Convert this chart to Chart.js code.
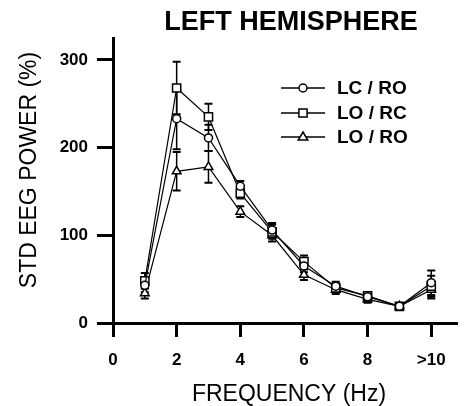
<!DOCTYPE html>
<html>
<head>
<meta charset="utf-8">
<script src="https://cdn.jsdelivr.net/npm/chart.js@4/dist/chart.umd.min.js"></script>
<style>
  html, body { margin: 0; padding: 0; background: #fff; }
  #wrap { width: 464px; height: 406px; }
</style>
</head>
<body>
<div id="wrap"><canvas id="eegChart" width="464" height="406"></canvas></div>
<script>
// frequency bins (10 = ">10 Hz")
const freqs = [1, 2, 3, 4, 5, 6, 7, 8, 9, 10];

// std EEG power (%) per condition, with SEM
const lcro = [43, 233, 211, 156, 106, 65, 42, 30, 19, 46];
const lcroErr = [8, 35, 15, 6, 8, 7, 5, 4, 2, 14];

const lorc = [48, 268, 235, 148, 104, 70, 40, 31, 19, 42];
const lorcErr = [9, 30, 15, 6, 8, 7, 5, 4, 2, 12];

const loro = [34, 173, 178, 127, 100, 55, 38, 27, 19, 38];
const loroErr = [6, 22, 18, 6, 7, 6, 5, 4, 2, 10];

const seriesNames = ['LC / RO', 'LO / RC', 'LO / RO'];
const xTicks = [0, 2, 4, 6, 8, 10];
const yTicks = [0, 100, 200, 300];

const FONT = "'Liberation Sans', Arial, sans-serif";

function points(ys) {
    return freqs.map((f, i) => ({ x: f, y: ys[i] }));
}

function series(label, ys, errs, style, radius) {
    return {
        label: label,
        data: points(ys),
        errors: errs,
        showLine: true,
        borderColor: '#000',
        borderWidth: 1.2,
        pointStyle: style,
        pointRadius: radius,
        pointBorderWidth: 1.5,
        pointBorderColor: '#000',
        pointBackgroundColor: '#fff',
        tension: 0
    };
}

function drawMarker(ctx, style, r, x, y) {
    ctx.beginPath();
    if (style === 'circle') {
        ctx.arc(x, y, r, 0, Math.PI * 2);
    } else if (style === 'rect') {
        const s = r * Math.SQRT1_2;
        ctx.rect(x - s, y - s, s * 2, s * 2);
    } else {
        ctx.moveTo(x, y - r);
        ctx.lineTo(x + r * 0.95, y + r * 0.6);
        ctx.lineTo(x - r * 0.95, y + r * 0.6);
        ctx.closePath();
    }
    ctx.fillStyle = '#fff';
    ctx.fill();
    ctx.lineWidth = 1.5;
    ctx.strokeStyle = '#000';
    ctx.stroke();
}

// vertical SEM bars with caps, drawn under the markers
const errorBars = {
    id: 'errorBars',
    beforeDatasetsDraw(chart) {
        const ctx = chart.ctx;
        const xs = chart.scales.x, ys = chart.scales.y;
        ctx.save();
        ctx.strokeStyle = '#000';
        chart.data.datasets.forEach(ds => {
            ds.data.forEach((p, i) => {
                const e = ds.errors[i];
                const px = xs.getPixelForValue(p.x);
                const top = ys.getPixelForValue(p.y + e);
                const bot = ys.getPixelForValue(p.y - e);
                ctx.lineWidth = 1.5;
                ctx.beginPath();
                ctx.moveTo(px, top);
                ctx.lineTo(px, bot);
                ctx.stroke();
                ctx.lineWidth = 2;
                ctx.beginPath();
                ctx.moveTo(px - 4, top);
                ctx.lineTo(px + 4, top);
                ctx.moveTo(px - 4, bot);
                ctx.lineTo(px + 4, bot);
                ctx.stroke();
            });
        });
        ctx.restore();
    }
};

// heading, axis titles and the legend box
const annotations = {
    id: 'annotations',
    afterDraw(chart) {
        const ctx = chart.ctx;
        ctx.save();
        ctx.fillStyle = '#000';
        ctx.textAlign = 'center';
        ctx.textBaseline = 'middle';

        ctx.font = 'bold 27px ' + FONT;
        ctx.fillText('LEFT HEMISPHERE', 291, 23);

        ctx.font = '23px ' + FONT;
        ctx.fillText('FREQUENCY (Hz)', 289, 395);

        ctx.save();
        ctx.translate(30, 170);
        ctx.rotate(-Math.PI / 2);
        ctx.fillText('STD EEG POWER (%)', 0, 0);
        ctx.restore();

        const rows = [88, 113, 137];
        ctx.textAlign = 'left';
        ctx.font = 'bold 19px ' + FONT;
        chart.data.datasets.forEach((ds, i) => {
            const y = rows[i];
            ctx.lineWidth = 1.5;
            ctx.strokeStyle = '#000';
            ctx.beginPath();
            ctx.moveTo(281, y);
            ctx.lineTo(325, y);
            ctx.stroke();
            drawMarker(ctx, ds.pointStyle, ds.pointRadius, 303, y);
            ctx.fillStyle = '#000';
            ctx.fillText(seriesNames[i], 337, y + 1);
        });
        ctx.restore();
    }
};

const axisBase = {
    border: { display: true, color: '#000', width: 3 },
    grid: {
        display: true,
        drawOnChartArea: false,
        drawTicks: true,
        color: '#000',
        lineWidth: 3,
        tickWidth: 3,
        tickColor: '#000'
    }
};

const config = {
    type: 'scatter',
    data: {
        datasets: [
            series(seriesNames[0], lcro, lcroErr, 'circle', 4),
            series(seriesNames[1], lorc, lorcErr, 'rect', 5.8),
            series(seriesNames[2], loro, loroErr, 'triangle', 5)
        ]
    },
    options: {
        responsive: false,
        animation: false,
        layout: { padding: { top: 38, right: 3, left: 0, bottom: 0 } },
        plugins: {
            legend: { display: false },
            title: { display: false },
            tooltip: { enabled: false }
        },
        scales: {
            x: {
                ...axisBase,
                type: 'linear',
                min: 0,
                max: 10.8,
                grid: { ...axisBase.grid, tickLength: 14 },
                afterBuildTicks: s => { s.ticks = xTicks.map(v => ({ value: v })); },
                afterFit: s => { s.height = 83; },
                ticks: {
                    color: '#000',
                    padding: 13,
                    maxRotation: 0,
                    font: { family: FONT, size: 17, weight: 'bold' },
                    callback: v => (v === 10 ? '>10' : String(v))
                }
            },
            y: {
                ...axisBase,
                min: 0,
                max: 325,
                grid: { ...axisBase.grid, tickLength: 16 },
                afterBuildTicks: s => { s.ticks = yTicks.map(v => ({ value: v })); },
                afterFit: s => { s.width = 113; },
                ticks: {
                    color: '#000',
                    padding: 9,
                    font: { family: FONT, size: 17, weight: 'bold' }
                }
            }
        }
    },
    plugins: [errorBars, annotations]
};

const eegChart = new Chart(document.querySelector('#eegChart'), config);
</script>
</body>
</html>
